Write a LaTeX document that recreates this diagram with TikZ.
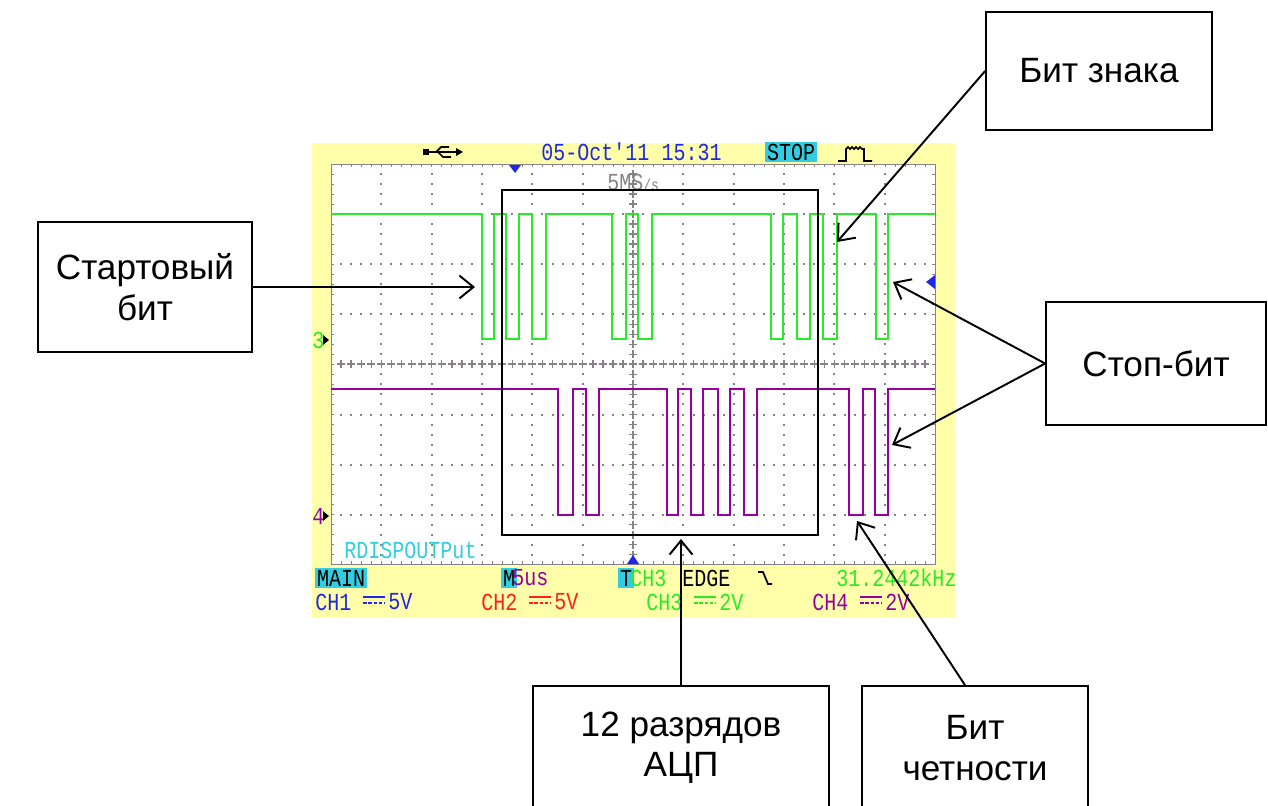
\documentclass[tikz,border=0pt]{standalone}
\usepackage{fontspec}
\setmainfont{Liberation Sans}
\newfontfamily\scopefont[FakeStretch=0.82]{Liberation Mono}
\usetikzlibrary{arrows.meta}

\definecolor{scopeyellow}{RGB}{255,255,170}
\definecolor{tracegreen}{RGB}{40,235,40}
\definecolor{tracepurple}{RGB}{150,0,160}
\definecolor{gridgray}{RGB}{135,130,135}
\definecolor{scopeblue}{RGB}{30,40,230}
\definecolor{scopecyan}{RGB}{50,205,225}
\definecolor{scopered}{RGB}{255,30,30}

\begin{document}
\begin{tikzpicture}[x=0.02cm, y=-0.02cm,
    callout/.style={draw, line width=1pt, fill=white, align=center, inner sep=0pt,
      font=\fontsize{20}{23}\selectfont},
    pointer/.style={line width=1.1pt, -{Straight Barb[length=8pt,width=13pt]}},
    scopetxt/.style={anchor=west, inner sep=0pt, font=\scopefont\fontsize{13.9}{14}\selectfont},
    tag/.style={scopetxt, fill=scopecyan, text=black, inner xsep=1pt, inner ysep=1pt},
    trace/.style={line width=1pt, line join=miter}]

    \useasboundingbox (0,0) rectangle (1268,805);

    % корпус и экран осциллографа
    \fill[scopeyellow] (312,143) rectangle (955,618);
    \draw[gridgray, fill=white] (331,164) rectangle (935,564);

    % сетка 12x8: точки и центральные крестики
    \foreach \i in {1,...,5,7,8,...,11} \foreach \k in {1,...,39}
        \fill[gridgray] ({331+50.33*\i-1},{164+10.02*\k-1}) rectangle ++(2,2);
    \foreach \j in {1,2,3,5,6,7} \foreach \k in {1,...,59}
        \fill[gridgray] ({331+10.07*\k-1},{164+50.1*\j-1}) rectangle ++(2,2);
    \foreach \k in {1,...,39} \draw[gridgray, line width=0.8pt] (629,{164+10.02*\k}) -- ++(8,0) (633,{160+10.02*\k}) -- ++(0,8);
    \foreach \k in {1,...,59} \draw[gridgray, line width=0.8pt] ({331+10.07*\k},360) -- ++(0,8) ({327+10.07*\k},364) -- ++(8,0);

    % риски по краям экрана
    \foreach \k in {1,...,59} { \draw[gridgray] ({331+10.07*\k},164) -- ++(0,3); \draw[gridgray] ({331+10.07*\k},564) -- ++(0,-3); }
    \foreach \k in {1,...,39} { \draw[gridgray] (331,{164+10.02*\k}) -- ++(3,0); \draw[gridgray] (935,{164+10.02*\k}) -- ++(-3,0); }

    % сигналы
    \draw[trace, tracegreen] (331,214)
        \foreach \a/\b in {482/494,506/519,532/546,612/626,638/652,771/783,797/810,823/837,876/888}
        { -- (\a,214) -- (\a,339) -- (\b,339) -- (\b,214) } -- (935,214);
    \draw[trace, tracepurple] (331,389)
        \foreach \a/\b in {558/573,586/599,667/678,691/703,718/730,744/757,849/863,875/888}
        { -- (\a,389) -- (\a,515) -- (\b,515) -- (\b,389) } -- (935,389);

    % метки каналов и уровня
    \node[scopetxt, text=tracegreen] (mark3) at (312,340) {3};
    \fill (323,335) -- (329,340) -- (323,345) -- cycle;
    \node[scopetxt, text=tracepurple] (mark4) at (312,516) {4};
    \fill (323,511) -- (329,516) -- (323,521) -- cycle;
    \fill[scopeblue] (509,165) -- (521,165) -- (515,173) -- cycle;
    \fill[scopeblue] (627,564) -- (639,564) -- (633,555) -- cycle;
    \fill[scopeblue] (935,275) -- (935,289) -- (926,282) -- cycle;

    % верхняя строка
    \fill (423,149) rectangle (429,155);
    \draw[line width=1pt] (429,152) -- (457,152) (436,152) -- (441,147) -- (449,147) (438,152) -- (443,157) -- (451,157);
    \fill (456,148) -- (463,152) -- (456,156) -- cycle;
    \node[scopetxt, text=scopeblue] (date) at (541,152) {05-Oct'11 15:31};
    \node[tag] (runstate) at (765,152) {STOP};
    \draw[line width=1pt] (838,161) -- (846,161) -- (846,149) -- (848,147) -- (850,149) -- (852,147) -- (854,149)
        -- (856,147) -- (858,149) -- (860,147) -- (862,149) -- (864,149) -- (864,161) -- (872,161);
    \node[scopetxt, text=gridgray] (rate) at (607,182) {5MS{\fontsize{9}{9}\selectfont/s}};
    \node[scopetxt, text=scopecyan] (mode) at (344,550) {RDISPOUTPut};

    % нижние строки
    \node[tag] (main) at (315,578) {MAIN};
    \node[tag] (mflag) at (501,578) {M};
    \node[scopetxt, text=tracepurple] (timebase) at (512,578) {5us};
    \node[tag] (tflag) at (618,578) {T};
    \node[scopetxt, text=tracegreen] (trigsrc) at (630,578) {CH3};
    \node[scopetxt] (edge) at (682,578) {EDGE};
    \draw[line width=1pt] (758,572) -- (763,572) -- (768,584) -- (772,584);
    \node[scopetxt, text=tracegreen] (freq) at (836,578) {31.2442kHz};
    \foreach \cx/\col/\volt/\n in {315/scopeblue/5V/1,481/scopered/5V/2,646/tracegreen/2V/3,812/tracepurple/2V/4} {
        \node[scopetxt, text=\col] (ch\n) at (\cx,602) {CH\n};
        \draw[\col, line width=1pt] ({\cx+48},597) -- ({\cx+70},597);
        \draw[\col, line width=1pt, dash pattern=on 2pt off 1pt] ({\cx+48},603) -- ({\cx+70},603);
        \node[scopetxt, text=\col] (volt\n) at ({\cx+73},602) {\volt};
    }

    % рамка 12 разрядов
    \node[draw, line width=1pt, minimum width=6.32cm, minimum height=6.9cm, inner sep=0pt] (bits) at (660,362.5) {};

    % подписи
    \node[callout, minimum width=4.52cm, minimum height=2.36cm] (sign) at (1099,71) {Бит знака};
    \node[callout, minimum width=4.28cm, minimum height=2.6cm] (start) at (145,287) {Стартовый\\бит};
    \node[callout, minimum width=4.4cm, minimum height=2.46cm] (stopbit) at (1156,363.5) {Стоп-бит};
    \node[callout, minimum width=5.92cm, minimum height=2.48cm] (adc) at (681,748) {12 разрядов\\АЦП};
    \node[callout, minimum width=4.52cm, minimum height=2.48cm] (parity) at (975,748) {Бит\\четности};

    % стрелки
    \coordinate (startTip) at (475,287);
    \coordinate (signTip) at (837,242);
    \coordinate (stopTipA) at (893,282);
    \coordinate (stopTipB) at (892,445);
    \coordinate (adcTip) at (681,539);
    \coordinate (parityTip) at (857,521);
    \draw[pointer] (start.east) -- (startTip);
    \draw[pointer] (sign.west) -- (signTip);
    \draw[pointer] (stopbit.west) -- (stopTipA);
    \draw[pointer] (stopbit.west) -- (stopTipB);
    \draw[pointer] (adc.north) -- (adcTip);
    \draw[pointer] ([xshift=-0.2cm]parity.north) -- (parityTip);
\end{tikzpicture}
\end{document}
